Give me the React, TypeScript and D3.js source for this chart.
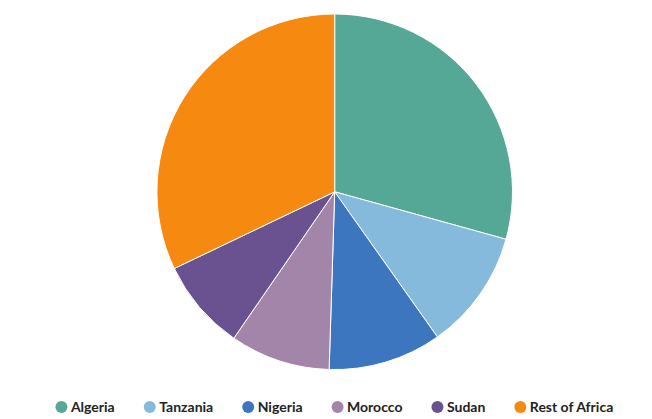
import React, { useMemo } from "react";
import * as d3 from "d3";

const categories = ["Algeria", "Tanzania", "Nigeria", "Morocco", "Sudan", "Rest of Africa"];
const values = [29.3, 10.9, 10.3, 9.1, 8.3, 32.1];
const colors = ["#55a896", "#86badd", "#3c76bf", "#a385aa", "#6a5190", "#f68a10"];

const W = 652;
const H = 419;
const FONT = "bold 14px Lato";

export default function App() {
  const cx = 334.7;
  const cy = 191.8;
  const r = 177.8;

  const pie = d3.pie<number>().sort(null).value((d) => d)(values);
  const arc = d3.arc<d3.PieArcDatum<number>>().innerRadius(0).outerRadius(r);

  const widths = useMemo(() => {
    const c = document.createElement("canvas").getContext("2d");
    if (!c) return categories.map((s) => s.length * 7);
    c.font = FONT;
    return categories.map((s) => c.measureText(s).width);
  }, []);

  const dot = 6;
  const dotGap = 3.5;
  const itemGap = 29;
  const itemW = widths.map((w) => dot * 2 + dotGap + w);
  const total = d3.sum(itemW) + itemGap * (categories.length - 1);
  let x = cx - total / 2;
  const legendY = 407;
  const items = categories.map((name, i) => {
    const x0 = x;
    x += itemW[i] + itemGap;
    return { name, x0, color: colors[i] };
  });

  return (
    <svg width={W} height={H} style={{ position: "absolute", left: 0, top: 0 }}>
      <g transform={`translate(${cx},${cy})`}>
        {pie.map((d, i) => (
          <path key={i} d={arc(d) || ""} fill={colors[i]} stroke="#fff" strokeWidth={1} />
        ))}
      </g>
      <g>
        {items.map((it) => (
          <g key={it.name}>
            <circle cx={it.x0 + dot} cy={legendY} r={dot} fill={it.color} />
            <text
              x={it.x0 + dot * 2 + dotGap}
              y={legendY}
              dy="0.35em"
              style={{ font: FONT, fill: "#222" }}
            >
              {it.name}
            </text>
          </g>
        ))}
      </g>
    </svg>
  );
}
